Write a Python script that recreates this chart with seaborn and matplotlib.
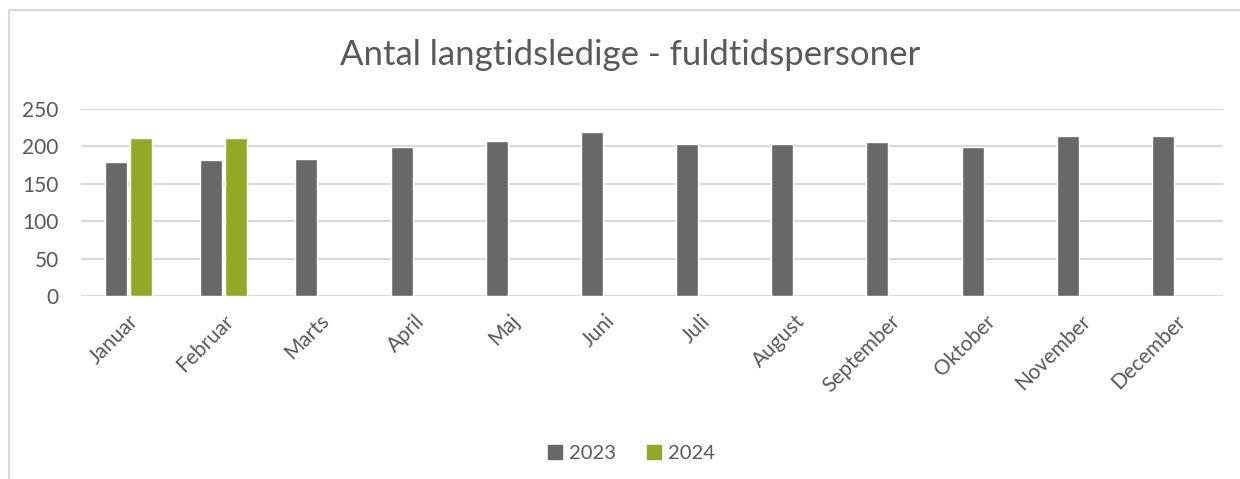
import pandas as pd
import numpy as np
import matplotlib
matplotlib.use('Agg')
import matplotlib.pyplot as plt
import seaborn as sns
from matplotlib.lines import Line2D

months = ['Januar', 'Februar', 'Marts', 'April', 'Maj', 'Juni',
          'Juli', 'August', 'September', 'Oktober', 'November', 'December']
values_2023 = [179, 181, 183, 199, 207, 219, 203, 203, 205, 199, 213, 213]
values_2024 = [211, 211, np.nan, np.nan, np.nan, np.nan,
               np.nan, np.nan, np.nan, np.nan, np.nan, np.nan]
years = ['2023', '2024']
y_ticks = [0, 50, 100, 150, 200, 250]

# long format for seaborn
df = pd.DataFrame({
    'maaned': months * 2,
    'aar': ['2023'] * 12 + ['2024'] * 12,
    'antal': values_2023 + values_2024,
})

sns.set_style('white')
plt.rcParams['font.family'] = ['Lato', 'DejaVu Sans']
text_col = '#595959'
grid_col = '#d9d9d9'
palette = {'2023': '#686868', '2024': '#93a926'}

fig = plt.figure(figsize=(12.4, 4.79), dpi=100)
ax = fig.add_axes([81 / 1240, 1 - 296 / 479, (1223 - 81) / 1240, (296 - 108.7) / 479])

sns.barplot(data=df, x='maaned', y='antal', hue='aar', hue_order=years,
            order=months, palette=palette, width=0.525, gap=0.12,
            saturation=1, ax=ax, legend=False, zorder=3)

ax.set_ylim(0, 250)
ax.set_xlim(-0.5, 11.5)
ax.set_yticks(y_ticks)
ax.yaxis.grid(True, color=grid_col, linewidth=1.5, zorder=0)
ax.set_axisbelow(True)
for s in ax.spines.values():
    s.set_visible(False)
ax.axhline(0, color=grid_col, linewidth=1.5, zorder=1)
ax.set_xlabel('')
ax.set_ylabel('')
ax.tick_params(axis='both', length=0, labelsize=15, labelcolor=text_col)
ax.tick_params(axis='y', pad=16)
plt.setp(ax.get_xticklabels(), rotation=45, ha='right', rotation_mode='anchor')
for lbl in ax.get_xticklabels():
    lbl.set_transform(lbl.get_transform() + matplotlib.transforms.ScaledTranslation(0.0, -0.1, fig.dpi_scale_trans))

fig.suptitle('Antal langtidsledige - fuldtidspersoner', x=0.508, y=1 - 55 / 479,
             va='center', fontsize=25, color=text_col)

handles = [Line2D([], [], marker='s', linestyle='', markersize=10,
                  color=palette[y]) for y in years]
fig.legend(handles, years, loc='center', bbox_to_anchor=(0.508, 1 - 453 / 479),
           ncol=2, frameon=False, fontsize=14.5, labelcolor=text_col,
           handletextpad=0.2, columnspacing=1.4, handlelength=1.0)

# chart border (top and left visible)
fig.add_artist(Line2D([9 / 1240, 1], [1 - 10 / 479, 1 - 10 / 479], color=grid_col,
                      linewidth=1.5, transform=fig.transFigure))
fig.add_artist(Line2D([9 / 1240, 9 / 1240], [0, 1 - 10 / 479], color=grid_col,
                      linewidth=1.5, transform=fig.transFigure))

fig.savefig('out.png', dpi=100)
